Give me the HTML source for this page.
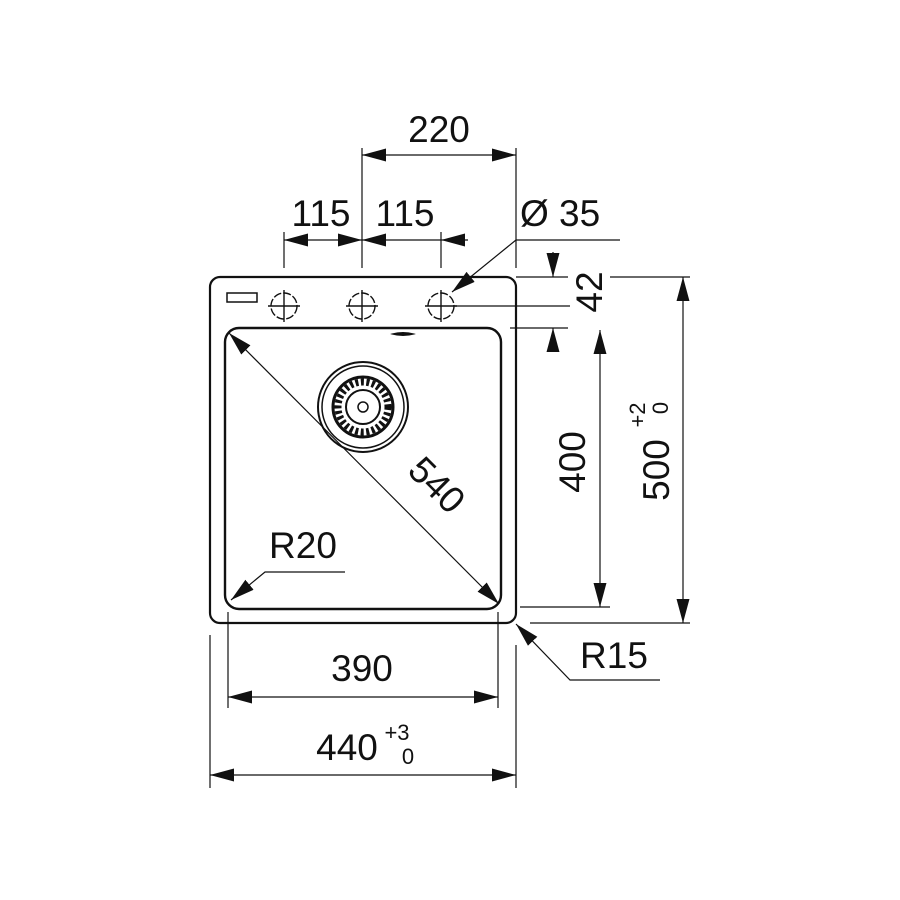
<!DOCTYPE html>
<html><head><style>body{margin:0;background:#fff}svg{display:block}text{font-family:"Liberation Sans",Arial,sans-serif;fill:#111}</style></head><body>
<svg width="900" height="900" viewBox="0 0 900 900" xmlns="http://www.w3.org/2000/svg">
<defs>
<marker id="a" viewBox="0 0 10 10" refX="10" refY="5" markerWidth="24" markerHeight="24" markerUnits="userSpaceOnUse" orient="auto-start-reverse"><path d="M0,2.3 L10,5 L0,7.7z" fill="#111"/></marker>
</defs>
<g stroke="#111" fill="none">
<rect x="210" y="277" width="306" height="346" rx="10" stroke-width="2.2"/>
<rect x="225" y="328" width="276" height="281" rx="14" stroke-width="2.4"/>
<rect x="227.5" y="330.5" width="271" height="276" rx="12" stroke-width="0.8" stroke="#fff"/>
<rect x="227" y="293" width="30" height="9" stroke-width="1.5"/>
<path d="M392,334 Q403,331 414,334 Q403,337 392,334z" fill="#111" stroke-width="1"/>
<g stroke-width="1.4">
<circle cx="284" cy="306" r="13" stroke-dasharray="8,2"/><path d="M268,306h32M284,290v32"/>
<circle cx="362" cy="306" r="13" stroke-dasharray="8,2"/><path d="M346,306h32M362,290v32"/>
<circle cx="441" cy="306" r="13" stroke-dasharray="8,2"/><path d="M425,306h32M441,290v32"/>
</g>
<circle cx="363" cy="407" r="45" stroke-width="2"/>
<circle cx="363" cy="407" r="41" stroke-width="1.5"/>
<circle cx="363" cy="407" r="30" stroke-width="3"/>
<circle cx="363" cy="407" r="25" stroke-width="7" stroke-dasharray="3,2.5"/>
<circle cx="363" cy="407" r="17" stroke-width="2"/>
<circle cx="363" cy="407" r="5" stroke-width="1.5"/>
<g stroke-width="1.2">
<path d="M362,148v120M516,148v120M284,232v36M441,232v36"/>
<path d="M362,155H516" marker-start="url(#a)" marker-end="url(#a)"/>
<path d="M284,240H362" marker-start="url(#a)" marker-end="url(#a)"/>
<path d="M362,240H441" marker-start="url(#a)"/>
<path d="M468,240H441" marker-end="url(#a)"/>
<path d="M620,240H516L452,292" marker-end="url(#a)"/>
<path d="M516,277H568M455,306H570M510,328H568"/>
<path d="M553,252V277" marker-end="url(#a)"/>
<path d="M553,340V328" marker-end="url(#a)"/>
<path d="M520,607H610"/>
<path d="M600,330V607" marker-start="url(#a)" marker-end="url(#a)"/>
<path d="M610,277H690M530,623H690"/>
<path d="M683,277V623" marker-start="url(#a)" marker-end="url(#a)"/>
<path d="M229,333L499,604" marker-start="url(#a)" marker-end="url(#a)"/>
<path d="M345,572H265L231,600" marker-end="url(#a)"/>
<path d="M660,680H570L516,624" marker-end="url(#a)"/>
<path d="M228,612V708M498,612V708"/>
<path d="M228,697H498" marker-start="url(#a)" marker-end="url(#a)"/>
<path d="M210,635V788M516,645V788"/>
<path d="M210,775H516" marker-start="url(#a)" marker-end="url(#a)"/>
</g>
</g>
<g font-size="37">
<text x="439" y="142" text-anchor="middle">220</text>
<text x="321" y="226" text-anchor="middle">115</text>
<text x="405" y="226" text-anchor="middle">115</text>
<text x="520" y="226">Ø 35</text>
<text transform="translate(602,292) rotate(-90)" text-anchor="middle">42</text>
<text transform="translate(585,462) rotate(-90)" text-anchor="middle">400</text>
<text transform="translate(669,470) rotate(-90)" text-anchor="middle">500</text>
<text transform="translate(645,415) rotate(-90)" font-size="22" text-anchor="middle">+2</text>
<text transform="translate(668,408) rotate(-90)" font-size="22" text-anchor="middle">0</text>
<text transform="translate(428,494) rotate(45)" text-anchor="middle">540</text>
<text x="303" y="558" text-anchor="middle">R20</text>
<text x="614" y="668" text-anchor="middle">R15</text>
<text x="362" y="681" text-anchor="middle">390</text>
<text x="347" y="760" text-anchor="middle">440</text>
<text x="397" y="740" font-size="22" text-anchor="middle">+3</text>
<text x="408" y="764" font-size="22" text-anchor="middle">0</text>
</g>
</svg>
</body></html>
